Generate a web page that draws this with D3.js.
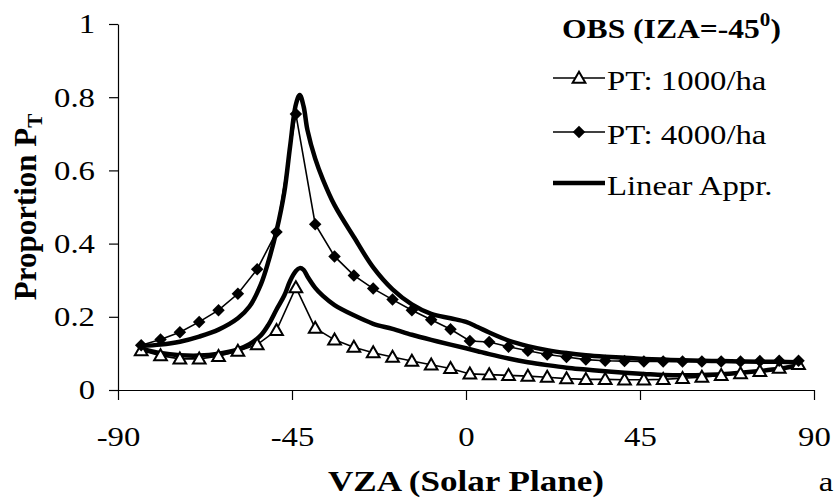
<!DOCTYPE html>
<html>
<head>
<meta charset="utf-8">
<script src="https://cdn.jsdelivr.net/npm/d3@7"></script>
<style>
    body { margin: 0; background: #fff; }
    svg { display: block; font-family: "Liberation Serif", "Times New Roman", serif; }
</style>
</head>
<body>
<svg id="Target" width="837" height="503"></svg>
<script>
// observed VZA angles (every 5 deg)
var obsX = [-84, -79, -74, -69, -64, -59, -54, -49, -44, -39, -34, -29, -24, -19, -14, -9, -4, 1,
    6, 11, 16, 21, 26, 31, 36, 41, 46, 51, 56, 61, 66, 71, 76, 81, 86];
// PT: 1000/ha
var pt1000 = [0.108, 0.094, 0.085, 0.085, 0.092, 0.106, 0.124, 0.163, 0.280, 0.169, 0.137, 0.117,
    0.102, 0.090, 0.079, 0.069, 0.059, 0.044, 0.042, 0.040, 0.038, 0.035, 0.031, 0.029, 0.029,
    0.028, 0.028, 0.029, 0.032, 0.035, 0.040, 0.045, 0.051, 0.060, 0.070];
// PT: 4000/ha
var pt4000 = [0.122, 0.138, 0.158, 0.186, 0.218, 0.263, 0.330, 0.432, 0.754, 0.453, 0.365, 0.313,
    0.277, 0.247, 0.218, 0.192, 0.166, 0.134, 0.131, 0.118, 0.107, 0.097, 0.090, 0.083, 0.080,
    0.079, 0.078, 0.078, 0.078, 0.078, 0.078, 0.078, 0.079, 0.080, 0.080];
// linear approximation curves
var approxX = [-84, -79, -74, -69, -64, -59, -56, -53, -51, -49, -47, -45.5, -44, -43, -42, -41,
    -39, -37, -34, -29, -24, -19, -14, -9, -4, 0, 3, 6, 11, 16, 21, 26, 31, 36, 41, 46, 51, 56,
    61, 66, 71, 76, 81, 86];
var approx4000 = [0.120, 0.124, 0.132, 0.146, 0.165, 0.196, 0.228, 0.290, 0.355, 0.435, 0.540,
    0.665, 0.780, 0.806, 0.775, 0.710, 0.632, 0.575, 0.505, 0.418, 0.335, 0.275, 0.234, 0.208,
    0.196, 0.186, 0.172, 0.157, 0.135, 0.120, 0.109, 0.101, 0.095, 0.091, 0.088, 0.085, 0.083,
    0.081, 0.080, 0.079, 0.078, 0.077, 0.077, 0.076];
var approx1000 = [0.113, 0.101, 0.095, 0.094, 0.099, 0.111, 0.125, 0.150, 0.180, 0.220, 0.258,
    0.298, 0.325, 0.333, 0.328, 0.310, 0.279, 0.257, 0.232, 0.204, 0.181, 0.167, 0.151, 0.137,
    0.124, 0.114, 0.106, 0.098, 0.086, 0.076, 0.068, 0.061, 0.056, 0.051, 0.047, 0.044, 0.041,
    0.040, 0.041, 0.043, 0.047, 0.052, 0.058, 0.067];
var xTicks = [-90, -45, 0, 45, 90];
var yTicks = [0, 0.2, 0.4, 0.6, 0.8, 1];
var legendLabels = ["PT: 1000/ha", "PT: 4000/ha", "Linear Appr."];

// the original text is drawn a bit wider than Times
var SX = 1.17;
var stretch = function (sel) {
    sel.each(function () {
        var t = d3.select(this);
        var tx = +(t.attr("x") || 0);
        var base = t.attr("transform") || "";
        t.attr("x", tx / SX).attr("transform", base + " scale(" + SX + ",1)");
    });
};

var svg = d3.select("#Target");

var x = d3.scaleLinear().domain([-90, 90]).range([118, 814]);
var y = d3.scaleLinear().domain([0, 1]).range([390, 24]);

// axes
var xAxis = svg.append("g")
    .attr("transform", "translate(0," + y(0) + ")")
    .call(d3.axisBottom(x).tickValues(xTicks).tickSize(10).tickSizeOuter(0).tickPadding(26)
        .tickFormat(function (d) { return d; }));
var yAxis = svg.append("g")
    .attr("transform", "translate(" + x(-90) + ",0)")
    .call(d3.axisLeft(y).tickValues(yTicks).tickSize(9).tickSizeOuter(0).tickPadding(14)
        .tickFormat(function (d) { return d; }));
[xAxis, yAxis].forEach(function (g) {
    g.selectAll("path, line").attr("stroke", "#000").attr("stroke-width", 1.2);
    g.selectAll("text")
        .attr("fill", "#000")
        .attr("font-family", "'Liberation Serif', 'Times New Roman', serif")
        .attr("font-size", 28);
    stretch(g.selectAll("text"));
});
xAxis.selectAll("text").attr("dy", "0.71em");

var obs1000 = obsX.map(function (d, i) { return [d, pt1000[i]]; });
var obs4000 = obsX.map(function (d, i) { return [d, pt4000[i]]; });
var lin1000 = approxX.map(function (d, i) { return [d, approx1000[i]]; });
var lin4000 = approxX.map(function (d, i) { return [d, approx4000[i]]; });

var straight = d3.line()
    .x(function (d) { return x(d[0]); })
    .y(function (d) { return y(d[1]); });
var smooth = d3.line()
    .curve(d3.curveCatmullRom.alpha(0.5))
    .x(function (d) { return x(d[0]); })
    .y(function (d) { return y(d[1]); });

// thin observed lines
svg.selectAll("path.obs")
    .data([obs1000, obs4000])
    .enter()
    .append("path")
    .attr("class", "obs")
    .attr("d", straight)
    .attr("fill", "none")
    .attr("stroke", "#000")
    .attr("stroke-width", 1.6);

// thick approximation curves
svg.selectAll("path.lin")
    .data([lin1000, lin4000])
    .enter()
    .append("path")
    .attr("class", "lin")
    .attr("d", smooth)
    .attr("fill", "none")
    .attr("stroke", "#000")
    .attr("stroke-width", 4.5)
    .attr("stroke-linejoin", "round");

var triangle = d3.symbol().type(d3.symbolTriangle).size(70);
var diamond = d3.symbol().type(d3.symbolSquare).size(78);

svg.selectAll("path.tri")
    .data(obs1000)
    .enter()
    .append("path")
    .attr("class", "tri")
    .attr("d", triangle)
    .attr("transform", function (d) { return "translate(" + x(d[0]) + "," + (y(d[1]) + 1) + ")"; })
    .attr("fill", "#fff")
    .attr("stroke", "#000")
    .attr("stroke-width", 2);

svg.selectAll("path.dia")
    .data(obs4000)
    .enter()
    .append("path")
    .attr("class", "dia")
    .attr("d", diamond)
    .attr("transform", function (d) { return "translate(" + x(d[0]) + "," + y(d[1]) + ") rotate(45)"; })
    .attr("fill", "#000");

// axis titles
svg.append("text")
    .attr("transform", "translate(466,491)")
    .attr("text-anchor", "middle")
    .attr("font-weight", "bold")
    .attr("font-size", 30)
    .text("VZA (Solar Plane)")
    .call(stretch);

var yTitle = svg.append("text")
    .attr("transform", "translate(36,207) rotate(-90)")
    .attr("text-anchor", "middle")
    .attr("font-weight", "bold")
    .attr("font-size", 31);
yTitle.append("tspan").text("Proportion P");
yTitle.append("tspan").attr("font-size", 21).attr("dy", 6).text("T");

svg.append("text")
    .attr("transform", "translate(826,491)")
    .attr("text-anchor", "middle")
    .attr("font-size", 28)
    .text("a")
    .call(stretch);

// legend
var legTitle = svg.append("text")
    .attr("transform", "translate(562,38)")
    .attr("font-weight", "bold")
    .attr("font-size", 27)
    .call(stretch);
legTitle.append("tspan").text("OBS (IZA=-45");
legTitle.append("tspan").attr("font-size", 18).attr("dy", -12).text("0");
legTitle.append("tspan").attr("dy", 12).text(")");

var legend = svg.selectAll("g.legend")
    .data(legendLabels)
    .enter()
    .append("g")
    .attr("class", "legend")
    .attr("transform", function (d, i) { return "translate(553," + [78, 132, 183][i] + ")"; });
legend.append("line")
    .attr("x1", 0)
    .attr("x2", 52)
    .attr("stroke", "#000")
    .attr("stroke-width", function (d, i) { return i === 2 ? 4.5 : 1.6; });
legend.append("text")
    .attr("x", 54)
    .attr("y", 12)
    .attr("font-size", 28)
    .text(function (d) { return d; })
    .call(stretch);
legend.filter(function (d, i) { return i === 0; })
    .append("path")
    .attr("d", triangle)
    .attr("transform", "translate(26,1)")
    .attr("fill", "#fff")
    .attr("stroke", "#000")
    .attr("stroke-width", 2);
legend.filter(function (d, i) { return i === 1; })
    .append("path")
    .attr("d", diamond)
    .attr("transform", "translate(26,0) rotate(45)")
    .attr("fill", "#000");
</script>
</body>
</html>
